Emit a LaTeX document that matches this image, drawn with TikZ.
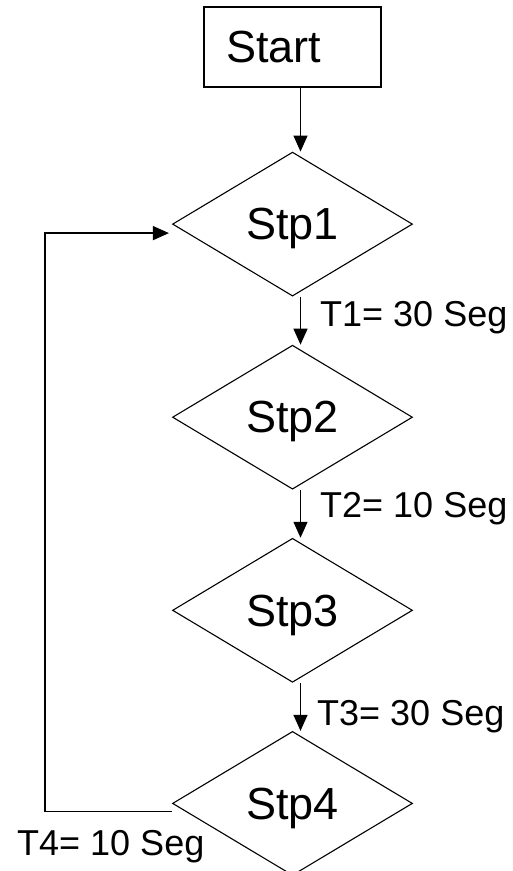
\documentclass[tikz,border=0pt]{standalone}
\usepackage{fontspec}
\setmainfont{Liberation Sans}
\usetikzlibrary{shapes.geometric,positioning,arrows.meta}

\begin{document}
\begin{tikzpicture}[x=1pt,y=1pt,
	stepshape/.style={diamond, draw, line width=1.1pt, minimum width=240pt, minimum height=144pt, aspect=1.667, inner sep=0pt, text depth=0pt, font=\fontsize{45}{50}\selectfont},
	startbox/.style={rectangle, draw, line width=1.1pt, minimum height=80pt, text width=133pt, inner xsep=22pt, align=left, text depth=0pt, font=\fontsize{45}{50}\selectfont},
	lbl/.style={inner sep=0pt, anchor=base west, font=\fontsize{36}{40}\selectfont},
	arr/.style={line width=1.4pt, -{Triangle[length=16pt,width=14pt]}},
	node distance=48pt]

	\useasboundingbox (0,0) rectangle (512,-871);

	% Define nodes
	\node[startbox]                          (start) at (292.5,-47) {Start};
	\node[stepshape, below=64pt of start]    (stp1) {Stp1};
	\node[stepshape, below=of stp1]          (stp2) {Stp2};
	\node[stepshape, below=of stp2]          (stp3) {Stp3};
	\node[stepshape, below=of stp3]          (stp4) {Stp4};

	% Timer labels
	\node[lbl] (t1) at (320,-326) {T1= 30 Seg};
	\node[lbl] (t2) at (320,-517) {T2= 10 Seg};
	\node[lbl] (t3) at (317,-725) {T3= 30 Seg};
	\node[lbl] (t4) at (17,-855)  {T4= 10 Seg};

	% Connect the nodes
	\draw[arr] ([xshift=8pt]start.south) -- ([xshift=8pt]start.south |- stp1.north);
	\draw[arr] ([xshift=8pt]stp1.south) -- ([xshift=8pt]stp1.south |- stp2.north);
	\draw[arr] ([xshift=8pt]stp2.south) -- ([xshift=8pt]stp2.south |- stp3.north);
	\draw[arr] ([xshift=8pt]stp3.south) -- ([xshift=8pt]stp3.south |- stp4.north);

	% Loop back
	\coordinate (inA) at ([shift={(-3pt,-9pt)}]stp1.west);
	\draw[arr] ([yshift=-8pt]stp4.west) -- ++(-127pt,0) |- (inA);

\end{tikzpicture}
\end{document}
